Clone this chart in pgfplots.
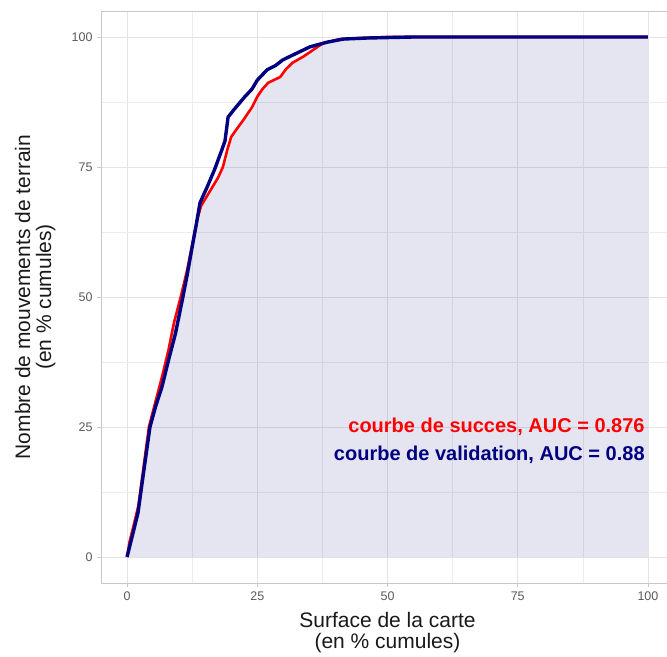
\documentclass[border=0pt]{standalone}
\usepackage{fontspec}
\setmainfont{Liberation Sans}
\usepackage{pgfplots}
\pgfplotsset{compat=1.18}
\definecolor{navy}{RGB}{0,0,128}
\definecolor{gridc}{RGB}{228,228,228}
\definecolor{borderc}{RGB}{200,200,200}
\definecolor{tickc}{RGB}{90,90,90}

\begin{document}
\begin{tikzpicture}
\begin{axis}[
        width=573bp, height=572bp, scale only axis,
        xmin=-5, xmax=105, ymin=-5, ymax=105,
        xtick={0,25,...,100}, ytick={0,25,...,100},
        minor tick num=1, minor tick length=0pt,
        grid=both,
        major grid style={gridc, line width=0.7bp},
        minor grid style={gridc!70, line width=0.5bp},
        axis line style={borderc, line width=0.8bp},
        tick style={borderc, line width=0.8bp},
        major tick length=4bp,
        tick align=outside, tickpos=left,
        /pgf/number format/assume math mode=true,
        ticklabel style={font=\fontsize{12.5bp}{14bp}\selectfont, text=tickc},
        xticklabel style={yshift=-1bp},
        yticklabel style={xshift=-1bp},
        label style={font=\fontsize{21bp}{21bp}\selectfont, align=center, text=black!90},
        xlabel={Surface de la carte\\(en \% cumules)},
        ylabel={Nombre de mouvements de terrain\\(en \% cumules)},
        xlabel style={at={(axis description cs:0.5,-0.05)}, anchor=north, inner sep=0pt},
        ylabel style={at={(axis description cs:-0.115,0.5)}, anchor=center, inner sep=0pt},
    ]
    % courbe de succes
    \pgfplotstableread{
x y
0 0
0.5 3
1.5 7
2.2 10
3 16
4.2 25
5.5 30
6.8 35
8 40
9 45
10.3 50
11.5 55
12.5 60
13.5 65
14.2 67.5
16 70.5
17.5 73
18.4 75
19.3 78.5
20 80.8
21.2 82.5
22.3 84
24 86.5
25 88.5
26 90
27.1 91.2
29.4 92.3
30.5 93.8
31.7 95
33.8 96.2
35.7 97.5
37.6 98.8
40.9 99.6
45 99.8
50 100
60 100
100 100
}\succes
    % courbe de validation
    \pgfplotstableread{
x y
0 0
1 4
2.1 8.5
3 15
4.4 25
5.5 29
6.7 32.7
8 38
9.3 43
10.6 49.4
11.5 54
12.5 59.6
13.3 64
14 68.1
15.4 71.2
16.8 74.5
18.2 78.3
18.8 80
19.4 84.6
20.5 86
22.6 88.5
24 90
25 91.7
26.9 93.7
28.5 94.5
29.9 95.6
32.6 96.9
35.1 98.1
38.4 99
41.5 99.6
46 99.8
55 100
100 100
}\validation
    \addplot[draw=none, fill=navy, fill opacity=0.1] table {\succes} \closedcycle;
    \addplot[red, line width=2.6bp, line join=round] table {\succes};
    \addplot[navy, line width=3.4bp, line join=round] table {\validation};
    \node[anchor=east, inner sep=0pt, text=red, font=\fontsize{20bp}{20bp}\selectfont\bfseries] at (axis cs:99.4,25) {courbe de succes, AUC = 0.876};
    \node[anchor=east, inner sep=0pt, text=navy, font=\fontsize{20bp}{20bp}\selectfont\bfseries] at (axis cs:99.4,19.7) {courbe de validation, AUC = 0.88};
\end{axis}
\pgfresetboundingbox
\useasboundingbox (-101bp,-74bp) rectangle (566bp,583bp);
\end{tikzpicture}
\end{document}
